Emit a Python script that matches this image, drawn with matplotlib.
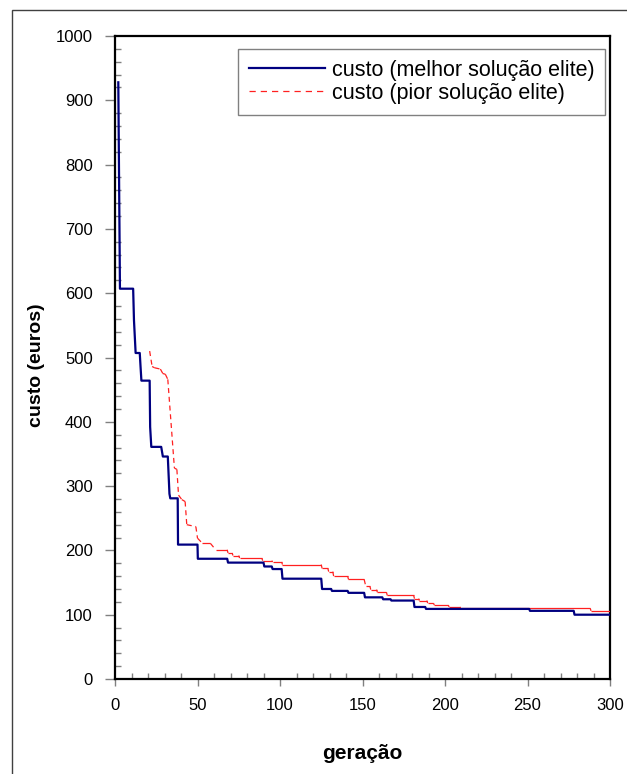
import matplotlib
matplotlib.use("Agg")
import matplotlib.pyplot as plt
import matplotlib.ticker as ticker
from matplotlib.collections import LineCollection
from matplotlib.lines import Line2D
from matplotlib.patches import Rectangle

# best elite solution cost per generation (step breakpoints)
best_gen = [2, 3, 11, 11.5, 12.5, 15, 15.5, 16, 21, 21.3, 22, 28, 29, 32, 33, 33.5,
            38, 38.2, 50, 50.2, 68, 68.5, 90, 90.5, 95, 95.5, 101, 101.5, 125, 125.5,
            131, 131.5, 141, 141.5, 151, 151.5, 162, 162.5, 167, 167.5, 181, 181.5,
            188, 188.5, 251, 251.5, 278, 278.5, 300]
best_cost = [928, 607, 607, 558, 507, 507, 485, 464, 464, 392, 361, 361, 346, 346, 288, 281,
             281, 209, 209, 187, 187, 181, 181, 175, 175, 171, 171, 156, 156, 140,
             140, 137, 137, 134, 134, 127, 127, 124, 124, 122, 122, 112,
             112, 109, 109, 106, 106, 100, 100]

# worst elite solution cost per generation
worst_gen = [21, 22.5, 24, 27.5, 29, 30.5, 32, 36, 37.5, 38.5, 40.5, 42.5, 43.5, 49, 50,
             53, 57.8, 61, 68, 68.5, 71, 71.5, 75, 75.5, 89, 89.5, 95, 95.5, 101, 101.5,
             125, 125.5, 129, 129.5, 132, 132.5, 141, 141.5, 151, 152, 154.5, 155, 158.5,
             159, 164.5, 165, 181, 181.5, 184, 184.5, 189, 189.5, 193, 193.5, 202, 202.5,
             209, 209.5, 288, 288.5, 300]
worst_cost = [510, 486, 484, 482, 475, 474, 466, 328, 326, 286, 279, 276, 240, 237, 219,
              211, 211, 201, 201, 196, 196, 192, 192, 188, 188, 184, 184, 182, 182, 178,
              178, 172, 172, 167, 167, 160, 160, 155, 155, 144, 144, 139, 139,
              135, 135, 130, 130, 125, 125, 122, 122, 118, 118, 115, 115, 112,
              112, 110, 110, 106, 106]

label_best = "custo (melhor solução elite)"
label_worst = "custo (pior solução elite)"

W, H = 627, 774
fig = plt.figure(figsize=(W / 100, H / 100), dpi=100)
plt.rcParams["font.family"] = ["Liberation Sans", "DejaVu Sans"]

ax = fig.add_axes([115 / W, 1 - 679 / H, 495 / W, 643 / H])

navy = "#000080"
red = "#FF2020"

ax.plot(best_gen, best_cost, color=navy, linewidth=1.6, zorder=4)

# worst curve: flat runs solid, changing steps dashed (Excel-style)
segs, styles = [], []
for i in range(len(worst_gen) - 1):
    segs.append([(worst_gen[i], worst_cost[i]), (worst_gen[i + 1], worst_cost[i + 1])])
    styles.append("-" if worst_cost[i] == worst_cost[i + 1] else (0, (4, 3)))
lc = LineCollection(segs, colors=red, linewidths=0.9, linestyles=styles, zorder=3)
ax.add_collection(lc)

ax.set_xlim(0, 300)
ax.set_ylim(0, 1000)
ax.xaxis.set_major_locator(ticker.MultipleLocator(50))
ax.xaxis.set_minor_locator(ticker.MultipleLocator(10))
ax.yaxis.set_major_locator(ticker.MultipleLocator(100))
ax.yaxis.set_minor_locator(ticker.MultipleLocator(20))

for s in ax.spines.values():
    s.set_color("black")
    s.set_linewidth(1.6)

ax.tick_params(axis="y", which="major", direction="out", length=7, width=1,
               color="#808080", pad=9, labelsize=12)
ax.tick_params(axis="x", which="major", direction="out", length=5, width=1,
               color="#808080", pad=9, labelsize=12)
ax.tick_params(which="minor", direction="in", length=4, width=1, color="#808080")

ax.set_xlabel("geração", fontsize=15, fontweight="bold")
ax.set_ylabel("custo (euros)", fontsize=14, fontweight="bold")
ax.xaxis.set_label_coords(0.499, -0.101)
ax.yaxis.set_label_coords(-0.1414, 0.488)

handles = [Line2D([], [], color=navy, linewidth=1.6),
           Line2D([], [], color=red, linewidth=0.9, linestyle=(0, (5, 4)))]
leg = ax.legend(handles, [label_best, label_worst], loc="upper right",
                bbox_to_anchor=(0.99, 0.98), fontsize=15.5, frameon=True,
                fancybox=False, framealpha=1, edgecolor="#808080",
                handlelength=3.5, handletextpad=0.33, labelspacing=0.1,
                borderpad=0.5, borderaxespad=0)
leg.get_frame().set_linewidth(1.0)

# outer chart frame
fig.add_artist(Rectangle((12 / W, -0.1), 1.0, 1 - 10 / H + 0.1, transform=fig.transFigure,
                         fill=False, edgecolor="#404040", linewidth=1.0))

fig.savefig("out.png", dpi=100)
